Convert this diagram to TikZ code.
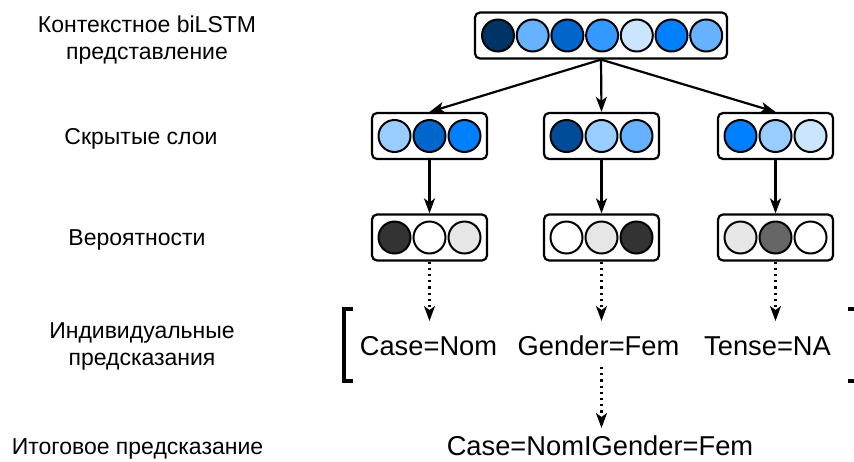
\documentclass[tikz,border=0pt]{standalone}
\usepackage{fontspec}
\setmainfont{Liberation Sans}
\usetikzlibrary{arrows.meta}

% unit fills
\definecolor{navy}{HTML}{003366}
\definecolor{deepblue}{HTML}{004C99}
\definecolor{midblue}{HTML}{0066CC}
\definecolor{brightblue}{HTML}{007FFF}
\definecolor{skyblue}{HTML}{3399FF}
\definecolor{softblue}{HTML}{66B2FF}
\definecolor{paleblue}{HTML}{99CCFF}
\definecolor{iceblue}{HTML}{CCE5FF}
\definecolor{dark}{HTML}{333333}
\definecolor{mid}{HTML}{666666}
\definecolor{light}{HTML}{E6E6E6}

\begin{document}
\begin{tikzpicture}[x=1pt,y=-1pt,
  panel/.style={draw, line width=2.2pt, rounded corners=5pt, minimum height=46pt,
                inner sep=0pt, fill=white},
  unit/.style={circle, draw, line width=2pt, minimum size=32pt, inner sep=0pt},
  tip/.style={-{Stealth[length=15pt,width=11pt,inset=4pt]}},
  link/.style={line width=2.2pt, tip},
  dotlink/.style={line width=2.2pt, dash pattern=on 2.2pt off 4pt, tip},
  rowlabel/.style={font=\fontsize{23}{27}\selectfont, align=center},
  tag/.style={font=\fontsize{27.3}{30}\selectfont, inner sep=0pt, anchor=base}]
\useasboundingbox (0,0) rectangle (854,461);

% row labels
\node[rowlabel] (l1) at (147,40) {Контекстное biLSTM\\представление};
\node[rowlabel] (l2) at (141,139) {Скрытые слои};
\node[rowlabel] (l3) at (137,240) {Вероятности};
\node[rowlabel] (l4) at (142,346) {Индивидуальные\\предсказания};
\node[rowlabel] (l5) at (137.5,449) {Итоговое предсказание};

% contextual representation
\node[panel, minimum width=252pt] (ctx) at (601,35.5) {};
\foreach \c [count=\i from 0] in {navy,softblue,midblue,skyblue,iceblue,brightblue,softblue}
  \node[unit, fill=\c] (c\i) at (498+34.7*\i,35.5) {};

% hidden layers
\node[panel, minimum width=115pt] (h1) at (429.5,136) {};
\node[panel, minimum width=115pt] (h2) at (601.5,136) {};
\node[panel, minimum width=115pt] (h3) at (775.5,136) {};
\foreach \c [count=\i from -1] in {paleblue,midblue,brightblue}
  \node[unit, fill=\c] (ha\i) at (429.5+35*\i,136) {};
\foreach \c [count=\i from -1] in {deepblue,paleblue,softblue}
  \node[unit, fill=\c] (hb\i) at (601.5+35*\i,136) {};
\foreach \c [count=\i from -1] in {brightblue,paleblue,iceblue}
  \node[unit, fill=\c] (hc\i) at (775.5+35*\i,136) {};

% probabilities
\node[panel, minimum width=115pt] (p1) at (429.5,237.5) {};
\node[panel, minimum width=115pt] (p2) at (601.5,237.5) {};
\node[panel, minimum width=115pt] (p3) at (775.5,237.5) {};
\foreach \c [count=\i from -1] in {dark,white,light}
  \node[unit, fill=\c] (pa\i) at (429.5+35*\i,237.5) {};
\foreach \c [count=\i from -1] in {white,light,dark}
  \node[unit, fill=\c] (pb\i) at (601.5+35*\i,237.5) {};
\foreach \c [count=\i from -1] in {light,mid,white}
  \node[unit, fill=\c] (pc\i) at (775.5+35*\i,237.5) {};

% individual predictions
\node[tag] (t1) at (428.5,355) {Case=Nom};
\node[tag] (t2) at (598.5,355) {Gender=Fem};
\node[tag] (t3) at (767.5,355) {Tense=NA};

% final prediction
\node[tag] (fin) at (600,455) {Case=NomIGender=Fem};

% brackets round the individual predictions
\draw[line width=4pt] (353,309) -- (344,309) -- (344,381) -- (353,381);
\draw[line width=4pt] (848,309) -- (862,309) (848,381) -- (862,381);

% connectors
\draw[link] (ctx.south) -- (h1.north);
\draw[link] (ctx.south) -- (h2.north);
\draw[link] (ctx.south) -- (h3.north);
\draw[link] (h1.south) -- (p1.north);
\draw[link] (h2.south) -- (p2.north);
\draw[link] (h3.south) -- (p3.north);
\coordinate (e1) at (429.5,321);
\coordinate (e2) at (601.5,321);
\coordinate (e3) at (775.5,321);
\draw[dotlink] (p1.south) -- (e1);
\draw[dotlink] (p2.south) -- (e2);
\draw[dotlink] (p3.south) -- (e3);
\coordinate (s4) at (601.5,367);
\coordinate (e4) at (601.5,428);
\draw[dotlink] (s4) -- (e4);
\end{tikzpicture}
\end{document}
